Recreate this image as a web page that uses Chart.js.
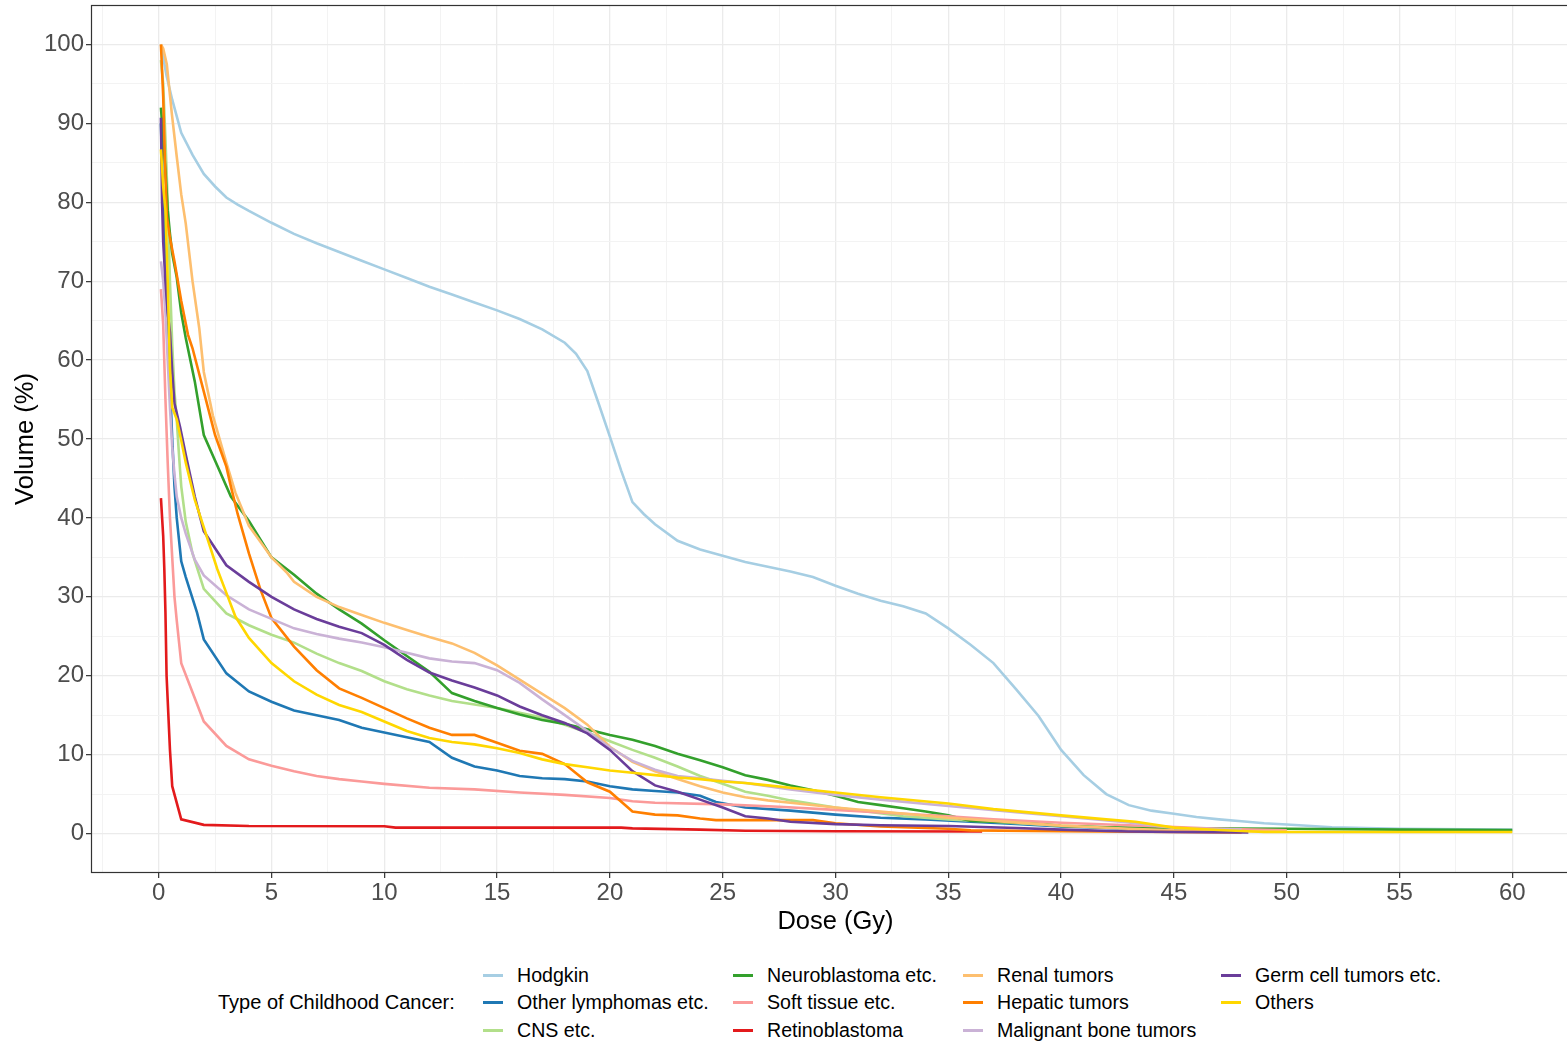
<!DOCTYPE html>
<html><head><meta charset="utf-8">
<script src="https://cdn.jsdelivr.net/npm/chart.js@4.4.1/dist/chart.umd.min.js"></script>
<style>
html,body{margin:0;padding:0;background:#fff;overflow:hidden;width:1567px;height:1044px;}
#wrap{position:absolute;left:0;top:0;width:1580px;height:945px;}
#legend{position:absolute;left:0;top:945px;width:1567px;height:99px;font-family:"Liberation Sans",Arial,sans-serif;font-size:19.6px;color:#000;}
.lt{position:absolute;white-space:nowrap;line-height:24px;height:24px;}
.key{position:absolute;height:3px;width:20px;}
</style></head><body>
<div id="wrap"><canvas id="c" width="1580" height="945"></canvas></div>
<div id="legend"></div>
<script>
// ---- data (dose in Gy, volume in %) ----
const hodgkinDose = [0.1,0.35,0.6,1,1.5,2,2.5,3,3.5,4,5,6,7,8,9,10,11,12,13,14,15,16,17,18,18.5,19,19.5,20,20.5,21,21.5,22,23,24,25,26,27,28,29,30,31,32,33,34,35,36,37,38,39,40,41,42,43,44,45,46,47,48,49,50,52,55,58,60];
const hodgkinVol  = [100,96,93,88.8,86,83.6,82,80.6,79.7,78.9,77.4,76,74.8,73.7,72.6,71.5,70.4,69.3,68.3,67.3,66.3,65.2,63.9,62.2,60.8,58.6,54.5,50.3,46,42,40.5,39.2,37.1,36,35.2,34.4,33.8,33.2,32.5,31.4,30.4,29.5,28.8,27.9,26,23.9,21.6,18.3,14.9,10.6,7.4,5,3.6,2.9,2.5,2.1,1.8,1.55,1.3,1.14,0.8,0.6,0.55,0.5];

const lymphDose = [0.1,0.2,0.3,0.4,0.5,0.6,0.7,0.8,1,1.2,1.7,2,3,4,5,6,7,8,9,10,11,12,13,14,15,16,17,18,19,20,21,22,23,24,24.7,26,28,30,32,34,36,38,40,42,45,48];
const lymphVol  = [90,80,72,64,57,50,44,40,34.5,32.5,28,24.6,20.3,18,16.7,15.6,15,14.4,13.4,12.8,12.2,11.6,9.6,8.5,8,7.3,7,6.9,6.6,6,5.6,5.4,5.2,4.8,4,3.3,2.9,2.4,2,1.8,1.5,1.2,0.9,0.7,0.4,0.25];

const cnsDose = [0.1,0.2,0.3,0.4,0.5,0.6,0.7,0.8,0.9,1,1.2,1.5,2,3,4,5,6,7,8,9,10,11,12,13,15,17,18,19,20,21,22,23,24,25,26,27,28,30,33,35,37,40,45,50];
const cnsVol  = [98,95,88,80,70,62,56,52.5,48,44,39.5,35.5,31,27.9,26.4,25.2,24.2,22.8,21.6,20.6,19.3,18.3,17.5,16.8,15.9,14.7,13.8,12.8,11.7,10.6,9.6,8.5,7.3,6.3,5.3,4.8,4.2,3.3,2.2,1.8,1.5,1.0,0.5,0.3];

const neuroDose = [0.1,0.2,0.3,0.4,0.5,0.6,0.8,1,1.2,1.6,2,2.6,3.2,4,5,6,7,8,9,10,11,12,13,14,15,16,17,18,19,20,21,22,23,24,25,26,27,28,29,30,31,32,33,34,35,36,38,39,40,42,45,50,55,60];
const neuroVol  = [92,88,84,79,76,73.5,70.5,66,62.8,57.3,50.5,46.6,42.7,39.6,35,32.8,30.4,28.4,26.6,24.5,22.5,20.5,17.8,16.8,15.9,15.1,14.4,13.9,13.2,12.5,11.9,11.1,10.1,9.3,8.4,7.4,6.8,6.1,5.5,4.8,4.0,3.6,3.2,2.8,2.3,1.6,1.4,1.3,0.95,0.8,0.65,0.6,0.5,0.45];

const softDose = [0.1,0.2,0.3,0.4,0.5,0.6,0.7,0.8,1,2,3,4,5,6,7,8,9,10,12,14,16,18,20,21,22,25,27.5,30,35,37,40,44.5,47,50];
const softVol  = [69,64.5,55,47,40,35,30,27,21.6,14.2,11.1,9.4,8.6,7.9,7.3,6.9,6.6,6.3,5.8,5.6,5.2,4.9,4.5,4.1,3.9,3.7,3.4,3.0,2.2,1.8,1.36,0.9,0.6,0.4];

const retinoDose = [0.1,0.2,0.25,0.3,0.35,0.5,0.6,1,2,4,10,10.5,20.5,21,24,26,30,36.5];
const retinoVol  = [42.5,37.7,33.5,28,20,10.6,6,1.8,1.1,0.95,0.93,0.75,0.75,0.65,0.5,0.35,0.3,0.25];

const renalDose = [0.1,0.2,0.36,0.58,0.8,1,1.2,1.5,1.8,2,2.4,2.8,3,3.4,4,4.5,5,5.7,6,7,8,9,10,11,12,13,14,15,16,17,18,19,20,21,22,23,24,25,26,27,28,30,32,35,37,40,43,45,48,50];
const renalVol  = [100,99.5,97.5,91.3,85.8,81,77.3,70,64,58.5,53,49,47,43.2,39,37,35,33,31.9,30,28.7,27.7,26.7,25.8,24.9,24.1,22.9,21.3,19.5,17.7,15.9,13.8,11,9.1,7.9,6.9,6,5.2,4.6,4.2,3.9,3.3,2.8,2.0,1.6,1.0,0.6,0.4,0.3,0.25];

const hepaticDose = [0.1,0.2,0.28,0.36,0.5,0.7,1,1.3,1.5,2,2.5,3,3.2,3.5,4,4.5,5,6,7,8,9,10,11,12,13,14,15,16,17,18,19,20,21,22,23,24,24.7,27.5,29,30,32,35,36,40,45,48];
const hepaticVol  = [100,93.4,85,78.2,75.5,72.5,67.5,63.2,61.5,56,50.5,46.5,44,40.5,35.5,31,27.3,23.7,20.7,18.4,17.2,15.9,14.6,13.4,12.5,12.5,11.5,10.5,10.1,8.8,6.5,5.3,2.8,2.4,2.3,1.9,1.7,1.7,1.7,1.3,0.9,0.6,0.4,0.3,0.2,0.15];

const boneDose = [0.1,0.2,0.3,0.4,0.5,0.6,0.7,0.8,1,1.2,1.6,2,3,4,5,6,7,8,9,10,11,12,13,14,15,16,17,18,19,20,21,22,23,24,25,26,28,30,32,35,38,40,43,45,48];
const boneVol  = [72.5,70,66,60,54,49,45.5,42.7,40,38,34.7,32.7,30.2,28.4,27.2,26,25.3,24.7,24.2,23.6,22.9,22.2,21.8,21.6,20.7,19.1,17,15,13,10.9,9.2,8.1,7.3,7,6.7,6.4,5.6,4.9,4.3,3.5,2.7,2.2,1.4,0.7,0.5];

const germDose = [0.1,0.15,0.2,0.3,0.4,0.5,0.6,0.7,0.95,1.2,1.6,2,3,4,5,6,7,8,9,10,11,12,13,14,15,16,17,18,19,20,21,22,23,24,25,26,27,28,30,32,35,38,40,43,45,48.3];
const germVol  = [90.7,80,75,70,66,63.5,58.5,54.5,51.5,48,42.7,38.3,34,31.9,30,28.4,27.2,26.2,25.4,23.9,22,20.4,19.4,18.5,17.5,16.1,15,14,12.7,10.6,7.9,6.1,5.3,4.3,3.3,2.2,1.9,1.5,1.2,1.05,0.95,0.7,0.5,0.25,0.2,0.15];

const othersDose = [0.1,0.2,0.3,0.4,0.5,0.6,0.8,1,1.2,1.6,2,2.6,3,3.4,4,5,6,7,8,9,10,11,12,13,14,15,16,17,18,19,20,21,22,23,24,25,26,27,28,30,32,35,37,40,42,43.3,45,47,49,55,60];
const othersVol  = [86.7,82,79,70,59,54,52.5,49.8,47,42.3,38.8,33.5,30.5,27.5,24.8,21.6,19.3,17.6,16.3,15.4,14.2,13,12.1,11.6,11.3,10.8,10.2,9.4,8.8,8.4,8,7.7,7.4,7.1,6.9,6.6,6.4,6.1,5.8,5.2,4.6,3.8,3.1,2.3,1.8,1.5,0.75,0.45,0.2,0.2,0.2];

const seriesNames  = ["Hodgkin","Other lymphomas etc.","CNS etc.","Neuroblastoma etc.","Soft tissue etc.","Retinoblastoma","Renal tumors","Hepatic tumors","Malignant bone tumors","Germ cell tumors etc.","Others"];
const seriesColors = ["#A6CEE3","#1F78B4","#B2DF8A","#33A02C","#FB9A99","#E31A1C","#FDBF6F","#FF7F00","#CAB2D6","#6A3D9A","#FFD700"];
const seriesDose = [hodgkinDose,lymphDose,cnsDose,neuroDose,softDose,retinoDose,renalDose,hepaticDose,boneDose,germDose,othersDose];
const seriesVol  = [hodgkinVol,lymphVol,cnsVol,neuroVol,softVol,retinoVol,renalVol,hepaticVol,boneVol,germVol,othersVol];

const xMajorTicks = [0,5,10,15,20,25,30,35,40,45,50,55,60];
const xMinorTicks = [-2.5,2.5,7.5,12.5,17.5,22.5,27.5,32.5,37.5,42.5,47.5,52.5,57.5,62.5];
const yMajorTicks = [0,10,20,30,40,50,60,70,80,90,100];
const yMinorTicks = [5,15,25,35,45,55,65,75,85,95];
const legendTitle = "Type of Childhood Cancer:";
const xTitle = "Dose (Gy)";
const yTitle = "Volume (%)";

// ---- chart ----
const FONT = '"Liberation Sans", Arial, sans-serif';
const n = seriesNames.length;
const datasets = seriesNames.map((name, i) => ({
  label: name,
  data: seriesDose[i].map((d, j) => ({x: d, y: seriesVol[i][j]})),
  borderColor: seriesColors[i],
  backgroundColor: seriesColors[i],
  borderWidth: 2.6,
  pointRadius: 0,
  tension: 0,
  fill: false,
  order: n - i
}));

const xMajSet = new Set(xMajorTicks), yMajSet = new Set(yMajorTicks);
function setTicks(maj, min) {
  return function(scale) {
    scale.ticks = maj.concat(min).sort((a,b)=>a-b).map(v => ({value: v}));
  };
}
function zeroPad(scale) { scale.paddingLeft = 0; scale.paddingRight = 0; scale.paddingTop = 0; scale.paddingBottom = 0; }

const borderPlugin = {
  id: 'panelBorder',
  afterDatasetsDraw(chart) {
    const a = chart.chartArea, ctx = chart.ctx;
    ctx.save();
    ctx.strokeStyle = '#333333';
    ctx.lineWidth = 1.2;
    ctx.strokeRect(a.left + 0.5, a.top + 0.5, a.right - a.left - 1, a.bottom - a.top - 1);
    ctx.restore();
  }
};

new Chart(document.getElementById('c'), {
  type: 'line',
  data: { datasets },
  plugins: [borderPlugin],
  options: {
    responsive: false,
    animation: false,
    devicePixelRatio: 1,
    layout: { padding: { top: 5, left: 0, right: 0, bottom: 0 } },
    plugins: { legend: { display: false }, tooltip: { enabled: false } },
    scales: {
      x: {
        type: 'linear', min: -3, max: 63,
        afterBuildTicks: setTicks(xMajorTicks, xMinorTicks),
        afterFit(scale) { scale.height = 72; zeroPad(scale); },
        border: { display: false },
        grid: {
          color: c => (c.tick && xMajSet.has(c.tick.value)) ? '#EBEBEB' : '#F3F3F3',
          lineWidth: c => (c.tick && xMajSet.has(c.tick.value)) ? 1.3 : 1,
          tickColor: c => (c.tick && xMajSet.has(c.tick.value)) ? '#333333' : 'rgba(0,0,0,0)',
          tickLength: 5, tickWidth: 1.2
        },
        ticks: {
          autoSkip: false, maxRotation: 0, minRotation: 0, padding: 1,
          color: '#4D4D4D', font: { family: FONT, size: 24 },
          callback: v => xMajSet.has(v) ? String(v) : ''
        },
        title: { display: true, text: xTitle, color: '#000', font: { family: FONT, size: 25.5 }, padding: { top: 0, bottom: 7.5 } }
      },
      y: {
        type: 'linear', min: -5, max: 105,
        afterBuildTicks: setTicks(yMajorTicks, yMinorTicks),
        afterFit(scale) { scale.width = 91; zeroPad(scale); },
        border: { display: false },
        grid: {
          color: c => (c.tick && yMajSet.has(c.tick.value)) ? '#EBEBEB' : '#F3F3F3',
          lineWidth: c => (c.tick && yMajSet.has(c.tick.value)) ? 1.3 : 1,
          tickColor: c => (c.tick && yMajSet.has(c.tick.value)) ? '#333333' : 'rgba(0,0,0,0)',
          tickLength: 5, tickWidth: 1.2
        },
        ticks: {
          autoSkip: false, padding: 2,
          color: '#4D4D4D', font: { family: FONT, size: 24 },
          callback: v => yMajSet.has(v) ? String(v) : ''
        },
        title: { display: true, text: yTitle, color: '#000', font: { family: FONT, size: 25.5 }, padding: { top: 10.5, bottom: 0 } }
      }
    }
  }
});

// ---- legend (column-major, 3 rows x 4 columns) ----
const lg = document.getElementById('legend');
const colKeyX = [483, 733, 963, 1221];
const rowCY = [30, 57, 85];
const t = document.createElement('div');
t.className = 'lt'; t.textContent = legendTitle;
t.style.left = '218px'; t.style.top = (rowCY[1] - 12) + 'px';
t.style.fontSize = '20px';
lg.appendChild(t);
seriesNames.forEach((name, i) => {
  const col = Math.floor(i / 3), row = i % 3;
  const k = document.createElement('div');
  k.className = 'key';
  k.style.background = seriesColors[i];
  k.style.left = colKeyX[col] + 'px';
  k.style.top = (rowCY[row] - 1.5) + 'px';
  lg.appendChild(k);
  const s = document.createElement('div');
  s.className = 'lt'; s.textContent = name;
  s.style.left = (colKeyX[col] + 34) + 'px';
  s.style.top = (rowCY[row] - 12) + 'px';
  lg.appendChild(s);
});
</script>
</body></html>
